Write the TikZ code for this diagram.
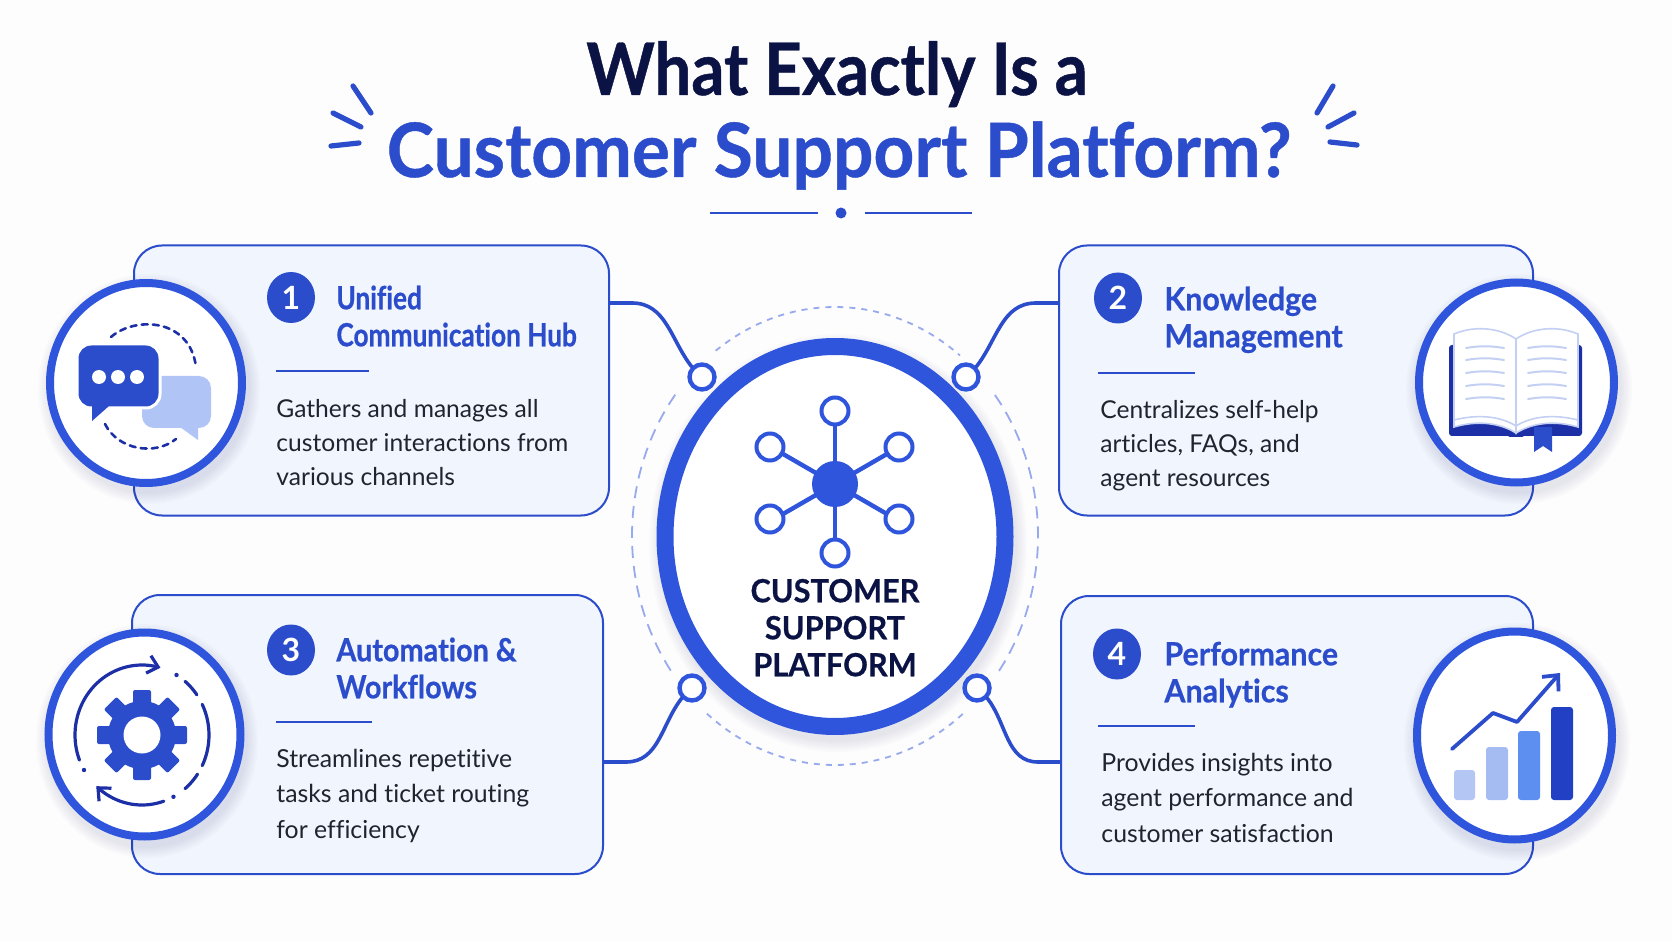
\documentclass[tikz,border=0pt]{standalone}
\usepackage{fontspec}
\setmainfont{Lato}[Ligatures=NoCommon]
\newfontfamily\headfont[Ligatures=NoCommon,BoldFeatures={FakeStretch=0.95,FakeBold=0.6}]{Lato}
\newfontfamily\headfontb[Ligatures=NoCommon,BoldFeatures={FakeStretch=0.90,FakeBold=0.6}]{Lato}
\newfontfamily\headfontc[Ligatures=NoCommon,BoldFeatures={FakeStretch=0.82,FakeBold=0.6}]{Lato}
\newfontfamily\corefont[Ligatures=NoCommon,BoldFeatures={FakeStretch=0.96,FakeBold=0.5}]{Lato}
\usetikzlibrary{arrows.meta,shapes.geometric,calc}
\definecolor{pagebg}{HTML}{FDFDFE}
\definecolor{cardbg}{HTML}{F1F5FD}
\definecolor{royal}{HTML}{2B4CCB}
\definecolor{ringblue}{HTML}{2F55DC}
\definecolor{navy}{HTML}{0B1344}
\definecolor{deep}{HTML}{1C2FA6}
\definecolor{bodyink}{HTML}{20242F}
\definecolor{pale}{HTML}{C3D0F3}
\definecolor{softbubble}{HTML}{B0C4F5}
\tikzset{
  card/.style={draw=royal,fill=cardbg,line width=1pt,rounded corners=14pt,inner sep=0pt},
  disc/.style={ellipse,draw=ringblue,fill=white,line width=4pt,inner sep=0pt},
  numdot/.style={ellipse,fill=royal,text=white,inner sep=0pt,minimum width=24pt,minimum height=25.5pt,font=\bfseries\fontsize{16}{16}\selectfont},
  headtext/.style={anchor=north west,inner sep=0pt,align=left,text=royal},
  bodytext/.style={anchor=north west,inner sep=0pt,align=left,text=bodyink,font=\fontsize{12.3}{17}\selectfont},
  hubring/.style={circle,draw=ringblue,fill=white,line width=2.2pt,inner sep=0pt,minimum size=12.5pt},
  satring/.style={circle,draw=ringblue,fill=white,line width=2pt,inner sep=0pt,minimum size=13.5pt},
  link/.style={draw=royal,line width=1.8pt,line cap=round},
  rulebar/.style={draw=royal,line width=1pt},
  spark/.style={draw=royal,line width=2.6pt,line cap=round},
  halo/.style={draw=ringblue!50!white,line width=.9pt}
}
\begin{document}
\begin{tikzpicture}[x=0.5pt,y=-0.5pt]
\useasboundingbox (0,0) rectangle (1672,941);
\fill[pagebg] (0,0) rectangle (1672,941);
%
% title
\node[anchor=base,inner sep=0pt,text=navy,font=\headfontb\bfseries\fontsize{36.3}{36.3}\selectfont] (title1) at (837,95) {What Exactly Is a};
\node[anchor=base,inner sep=0pt,text=royal,font=\headfont\bfseries\fontsize{37.5}{37.5}\selectfont] (title2) at (839,177) {Customer Support Platform?};
\draw[spark] (353,86)--(371,113);
\draw[spark] (333,113)--(361,127);
\draw[spark] (331,146)--(359,143);
\draw[spark] (1333,86)--(1317,113);
\draw[spark] (1354,113)--(1328,127);
\draw[spark] (1357,145)--(1330,142);
\draw[rulebar] (710,213)--(818,213);
\draw[rulebar] (865,213)--(972,213);
\fill[royal] (841,213) circle [radius=5.5];
%
% cards
\node[card,minimum width=237.5pt,minimum height=135pt] (card1) at (371.5,380.5) {};
\node[card,minimum width=237pt,minimum height=135pt] (card2) at (1296,380.5) {};
\node[card,minimum width=235.5pt,minimum height=139.5pt] (card3) at (367.5,734.5) {};
\node[card,minimum width=236pt,minimum height=139pt] (card4) at (1297,735) {};
%
% soft shadows below the round parts
\foreach \cx/\cy/\rx/\ry in {146/383/100/104,1516/383/102/104,144/735/100/106,1514/736/102/108,835/537/178/198}{
  \foreach \s in {1,3,...,11}{
    \fill[navy,opacity=0.014] ($(\cx,\cy)+(3,6)$) ellipse [x radius=\rx+\s, y radius=\ry+\s];
  }
}
%
% dashed orbit
\foreach \a/\b/\pon/\poff in {234/308/3/3,322/398/6/4,51/130/3/3,144/219/6/4}{
  \draw[halo,dash pattern=on \pon pt off \poff pt] plot[domain=\a:\b,samples=60,smooth] ({835+203*cos(\x)},{536+229*sin(\x)});
}
%
% centre
\node[ellipse,draw=ringblue,fill=white,line width=8.5pt,inner sep=0pt,minimum width=170pt,minimum height=190pt] (core) at (835,536.5) {};
\foreach \a in {90,150,210,270,330,30}{
  \draw[ringblue,line width=2.2pt] (835,484)--++(\a:72);
}
\fill[ringblue] (835,484) circle [radius=23];
\node[satring] (sat1) at (835,411) {};
\node[satring] (sat2) at (899,447) {};
\node[satring] (sat3) at (899,519) {};
\node[satring] (sat4) at (835,553) {};
\node[satring] (sat5) at (770,519) {};
\node[satring] (sat6) at (770,447) {};
\node[anchor=north,inner sep=0pt,align=center,text=navy,font=\corefont\bfseries\fontsize{16}{18.5}\selectfont] (corelabel) at (835,576) {\strut CUSTOMER\\SUPPORT\\PLATFORM};
%
% connectors
\node[hubring] (hub1) at (702,377) {};
\node[hubring] (hub2) at (966,377) {};
\node[hubring] (hub3) at (692,688) {};
\node[hubring] (hub4) at (977,688) {};
\draw[link] (card1.east |- 0,303)--++(22,0) to[out=0,in=128] (hub1.135);
\draw[link] (card2.west |- 0,303)--++(-22,0) to[out=180,in=52] (hub2.45);
\draw[link] (card3.east |- 0,762)--++(22,0) to[out=0,in=232] (hub3.225);
\draw[link] (card4.west |- 0,762)--++(-22,0) to[out=180,in=-52] (hub4.-45);
%
% card 1
\node[numdot] (num1) at (291,297.5) {1};
\node[headtext,font=\headfontc\bfseries\fontsize{16}{18.5}\selectfont] (head1) at (336,283) {\strut Unified\\Communication Hub};
\draw[rulebar] (276,371)--(369,371);
\node[bodytext] (body1) at (276,393) {\strut Gathers and manages all\\customer interactions from\\various channels};
% card 2
\node[numdot] (num2) at (1118,298) {2};
\node[headtext,font=\headfont\bfseries\fontsize{16}{18.5}\selectfont] (head2) at (1164,284) {\strut Knowledge\\Management};
\draw[rulebar] (1098,373)--(1195,373);
\node[bodytext] (body2) at (1100,394) {\strut Centralizes self-help\\articles, FAQs, and\\agent resources};
% card 3
\node[numdot] (num3) at (291,650) {3};
\node[headtext,font=\headfontb\bfseries\fontsize{16}{18.5}\selectfont] (head3) at (336,635) {\strut Automation \&\\Workflows};
\draw[rulebar] (276,722)--(372,722);
\node[bodytext,font=\fontsize{12.4}{17.8}\selectfont] (body3) at (276,742) {\strut Streamlines repetitive\\tasks and ticket routing\\for efficiency};
% card 4
\node[numdot] (num4) at (1117,654) {4};
\node[headtext,font=\headfont\bfseries\fontsize{16}{18.5}\selectfont] (head4) at (1164,639) {\strut Performance\\Analytics};
\draw[rulebar] (1098,726)--(1195,726);
\node[bodytext,font=\fontsize{12.4}{17.8}\selectfont] (body4) at (1101,746) {\strut Provides insights into\\agent performance and\\customer satisfaction};
%
% discs
\node[disc,minimum width=96pt,minimum height=100pt] (disc1) at (146,383) {};
\node[disc,minimum width=97.5pt,minimum height=100pt] (disc2) at (1516.5,382.5) {};
\node[disc,minimum width=96pt,minimum height=102pt] (disc3) at (144.5,734.5) {};
\node[disc,minimum width=97.5pt,minimum height=104pt] (disc4) at (1514.5,735.5) {};
%
% chat icon
\draw[deep,line width=1.3pt,dash pattern=on 3pt off 2.6pt,line cap=round] (111,337) .. controls (135,316) and (190,318) .. (196,367);
\draw[deep,line width=1.3pt,dash pattern=on 3pt off 2.6pt,line cap=round] (105,424) .. controls (118,450) and (155,456) .. (176,439);
\fill[softbubble,rounded corners=6pt] (142,376) rectangle (211,428);
\fill[softbubble] (180,427)--(198,440)--(198,427)--cycle;
\draw[white,fill=royal,line width=1.5pt,rounded corners=7pt] (77,344) rectangle (160,408);
\fill[royal] (92,404)--(92,421)--(109,406)--cycle;
\foreach \x in {99,118,137}{
  \fill[white] (\x,377) circle [radius=7];
}
%
% book icon
\fill[deep,rounded corners=1.5pt] (1449,345) rectangle (1582,436);
\fill[deep,rounded corners=1pt] (1508,432) rectangle (1524,437);
\draw[pale,line width=.8pt,fill=white] (1454,334) .. controls (1475,325) and (1500,328) .. (1516,339)--(1516,433) .. controls (1500,423) and (1478,420) .. (1454,427)--cycle;
\draw[pale,line width=.8pt,fill=white] (1578,334) .. controls (1557,325) and (1532,328) .. (1516,339)--(1516,433) .. controls (1532,423) and (1554,420) .. (1578,427)--cycle;
\draw[pale,line width=.8pt] (1454,420) .. controls (1478,414) and (1500,416) .. (1516,426) .. controls (1532,416) and (1554,414) .. (1578,420);
\foreach \y in {348,360,373,386,399}{
  \draw[pale,line width=1pt,line cap=round] (1466,\y) to[bend left=9] (1504,\y);
  \draw[pale,line width=1pt,line cap=round] (1528,\y) to[bend left=9] (1566,\y);
}
\fill[royal] (1534,427)--(1552,427)--(1552,452)--(1543,446)--(1534,452)--cycle;
%
% gear icon
\foreach \a in {0,45,...,315}{
  \fill[royal,rotate around={\a:(142,735)},rounded corners=1pt] (133,690) rectangle (151,712);
}
\fill[royal] (142,735) circle [radius=34];
\fill[white] (142,735) circle [radius=18.5];
\draw[deep,line width=1.6pt,line cap=round,-{Straight Barb[length=5pt,width=9pt]}] plot[domain=159:286,samples=40,smooth] ({142+67*cos(\x)},{735+70*sin(\x)});
\draw[deep,line width=1.6pt,line cap=round,-{Straight Barb[length=5pt,width=9pt]}] plot[domain=71:133,samples=30,smooth] ({142+67*cos(\x)},{735+70*sin(\x)});
\foreach \a/\b in {310/325,334/386,34/50}{
  \draw[deep,line width=1.6pt,line cap=round] plot[domain=\a:\b,samples=20,smooth] ({142+67*cos(\x)},{735+70*sin(\x)});
}
\foreach \a in {150,301,62}{
  \fill[deep] ({142+67*cos(\a)},{735+70*sin(\a)}) circle [radius=2.2];
}
%
% chart icon
\foreach \xa/\xb/\ytop/\barfill in {1454/1475/770/B4C6F4,1486/1508/747/A5BCF3,1518/1540/731/5C8FEF,1551/1573/707/2240C4}{
  \definecolor{barcol}{HTML}{\barfill}
  \fill[barcol,rounded corners=1.5pt] (\xa,\ytop) rectangle (\xb,800);
}
\draw[royal,line width=1.9pt,line cap=round,line join=round,-{Straight Barb[length=6pt,width=11pt]}] (1452,749)--(1493,713)--(1517,722)--(1560,673);
\end{tikzpicture}
\end{document}
